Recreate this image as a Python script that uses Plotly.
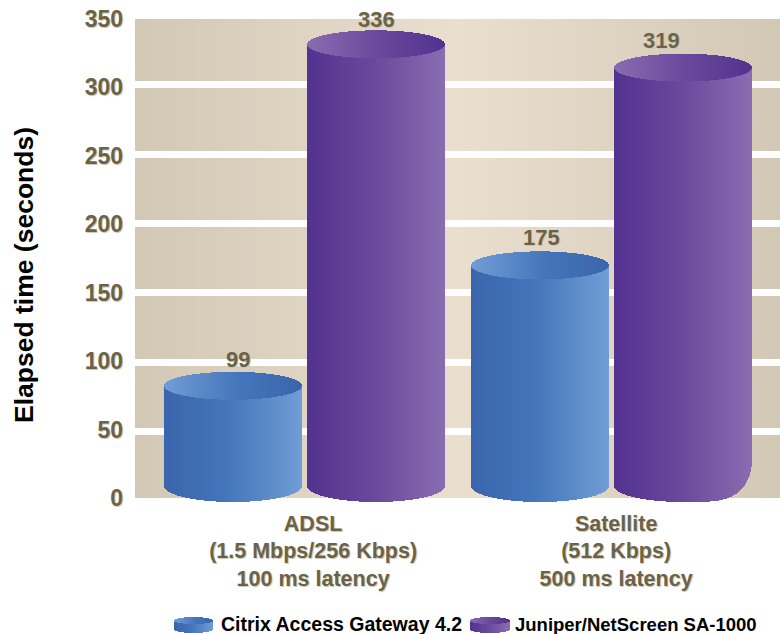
import numpy as np
import plotly.graph_objects as go

# ---- data ----
categories = ["ADSL<br>(1.5 Mbps/256 Kbps)<br>100 ms latency",
              "Satellite<br>(512 Kbps)<br>500 ms latency"]
series_names = ["Citrix Access Gateway 4.2", "Juniper/NetScreen SA-1000"]
citrix_labels = [99, 175]
juniper_labels = [336, 319]
citrix_heights = [82, 170]      # drawn height of the cylinder's top centre
juniper_heights = [331.5, 314.5]
y_ticks = [0, 50, 100, 150, 200, 250, 300, 350]
grid_ticks = [50, 100, 150, 200, 250, 300]

# ---- page geometry ----
W, H = 780, 634
PL, PR, PT, PB = 135, 780, 19, 498
AREA_B = 504                    # plot area runs a little below the panel for the cylinder bases
PX_PER_UNIT = (PB - PT) / 350.0
GROUP_PX = 307.0
X0_PX = 304.5
TAN = "#d3c8b5"
TEXT = "#6b6347"
BOLD = "Liberation Sans, Arial, sans-serif"
LABEL_NUDGE = {99: (5, 26), 175: (1, 28), 336: (0, 25), 319: (-22, 27)}

def lerp_hex(stops, t):
    xs = [s[0] for s in stops]
    rgb = [np.interp(t, xs, [int(s[1][i:i+2], 16) for s in stops]) for i in (1, 3, 5)]
    return "rgb(%d,%d,%d)" % tuple(round(v) for v in rgb)

BLUE = [(0, "#3a65ad"), (0.45, "#4475bb"), (1, "#709dd4")]
PURPLE = [(0, "#533290"), (0.5, "#6a4a9c"), (1, "#8a6cb1")]
rounded_up = 42 / PX_PER_UNIT

def cylinder_traces(centers, heights, half_w, slice_w, ry_top, ry_bot, base, stops, xa, ya, rounded=None):
    """Draw a cylinder per value as thin bar slices, shaded across its width."""
    sx, sb, sy, sc, tb, ty, tc = [], [], [], [], [], [], []
    n = int(round(2 * half_w / slice_w))
    for k, (c, h) in enumerate(zip(centers, heights)):
        for i in range(n):
            u = (i + 0.5) / n
            t = 2 * u - 1
            arc = np.sqrt(max(0, 1 - t * t))
            low = base - ry_bot * arc
            if rounded == k and t > 0:
                low = base - ry_bot + rounded_up * (1 - np.sqrt(max(0, 1 - t ** 4)))
            sx.append(c + t * half_w)
            sb.append(low)
            sy.append(h - low)
            sc.append(lerp_hex(stops, u))
            tb.append(h - ry_top * arc)
            ty.append(2 * ry_top * arc)
            tc.append(lerp_hex(stops, 1 - u))
    common = dict(width=slice_w, marker_line_width=0, xaxis=xa, yaxis=ya,
                  cliponaxis=False, hoverinfo="skip", showlegend=False)
    return [go.Bar(x=sx, y=sy, base=sb, marker_color=sc, **common),
            go.Bar(x=sx, y=ty, base=tb, marker_color=tc, **common)]

fig = go.Figure()

xr = [(PL - X0_PX) / GROUP_PX, (PR - X0_PX) / GROUP_PX]
slice_w = 1.0 / GROUP_PX
half_w = 69.0 / GROUP_PX
off = 71.5 / GROUP_PX
ry_t = 14 / PX_PER_UNIT
ry_b = 16 / PX_PER_UNIT
base_val = 12 / PX_PER_UNIT

x_c = [i - off for i in range(2)]
x_j = [i + off for i in range(2)]
for tr in cylinder_traces(x_c, citrix_heights, half_w, slice_w, ry_t, ry_b, base_val, BLUE, "x", "y"):
    fig.add_trace(tr)
for tr in cylinder_traces(x_j, juniper_heights, half_w, slice_w, ry_t, ry_b, base_val, PURPLE, "x", "y", rounded=1):
    fig.add_trace(tr)

# carrier for the white band axis
fig.add_trace(go.Scatter(x=[None], y=[None], xaxis="x", yaxis="y2", showlegend=False, hoverinfo="skip"))

# legend swatches on their own pixel-scaled axes
for cx, stops in ((193.5, BLUE), (490, PURPLE)):
    for tr in cylinder_traces([cx], [620.5], 19.5, 1.0, -3.5, -4, 629, stops, "x3", "y3"):
        fig.add_trace(tr)

# background shading, behind the gridlines
shapes = []
step = 3
for px in range(PL, PR, step):
    u = (px + step / 2 - PL) / (PR - PL)
    col = lerp_hex([(0, TAN), (0.5, "#eadfcf"), (1, TAN)], u)
    shapes.append(dict(type="rect", layer="below", line_width=0, fillcolor=col,
                       xref="paper", yref="paper", x0=px / W, x1=(px + step) / W,
                       y0=1 - PB / H, y1=1 - PT / H))

annotations = []
shadow = "1px 1px 1px #c9c5b8"
all_x = x_c + x_j
all_h = citrix_heights + juniper_heights
all_l = citrix_labels + juniper_labels
for x, h, l in zip(all_x, all_h, all_l):
    dx, dy = LABEL_NUDGE[l]
    annotations.append(dict(x=x, y=h, xref="x", yref="y", text=str(l), showarrow=False,
                            xshift=dx, yshift=dy, xanchor="center", yanchor="middle",
                            font=dict(family=BOLD, size=22, color=TEXT, weight="bold", shadow=shadow)))
annotations.append(dict(x=24 / W, y=1 - 275 / H, xref="paper", yref="paper", text="Elapsed time (seconds)",
                        textangle=-90, showarrow=False, xanchor="center", yanchor="middle",
                        font=dict(family=BOLD, size=26.5, color="#000000", weight="bold")))
for px, size, name in zip((219, 513), (19.5, 18.5), series_names):
    annotations.append(dict(x=px / W, y=1 - 624 / H, xref="paper", yref="paper", text=name, showarrow=False,
                            xanchor="left", yanchor="middle",
                            font=dict(family=BOLD, size=size, color="#000000", weight="bold")))

y_low = -(AREA_B - PB) / PX_PER_UNIT
fig.update_layout(
    width=W, height=H, autosize=False, margin=dict(l=0, r=0, t=0, b=0, pad=0, autoexpand=False),
    paper_bgcolor="#ffffff", plot_bgcolor="#ffffff", barmode="overlay", bargap=0,
    showlegend=False, shapes=shapes, annotations=annotations,
    xaxis=dict(domain=[PL / W, PR / W], range=xr, tickmode="array",
               tickvals=[0.028, 1.015], ticktext=categories, showgrid=False, zeroline=False,
               showline=False, ticks="", ticklabelstandoff=4, automargin=False,
               tickfont=dict(family=BOLD, size=21.5, color=TEXT, weight="bold", shadow=shadow)),
    yaxis=dict(domain=[1 - AREA_B / H, 1 - PT / H], range=[y_low, 350], tickmode="array", tickvals=y_ticks,
               showgrid=False, zeroline=False, showline=False, ticks="", ticklabelstandoff=11, automargin=False,
               tickfont=dict(family=BOLD, size=23, color=TEXT, weight="bold", shadow=shadow)),
    yaxis2=dict(domain=[1 - AREA_B / H, 1 - PT / H], overlaying="y", anchor="x", side="left",
                range=[(501 - AREA_B) / 1.388, (501 - PT) / 1.388], tickmode="array", tickvals=grid_ticks,
                showticklabels=False, showgrid=True, gridcolor="#ffffff", gridwidth=7, zeroline=False,
                showline=False, ticks=""),
    xaxis3=dict(domain=[0, 1], range=[0, W], visible=False, anchor="y3"),
    yaxis3=dict(domain=[0, 30 / H], range=[H, H - 30], visible=False, anchor="x3"),
)

fig.write_html("out.html", config={"displayModeBar": False},
               post_script="document.body.style.margin='0';document.body.style.overflow='hidden';")
